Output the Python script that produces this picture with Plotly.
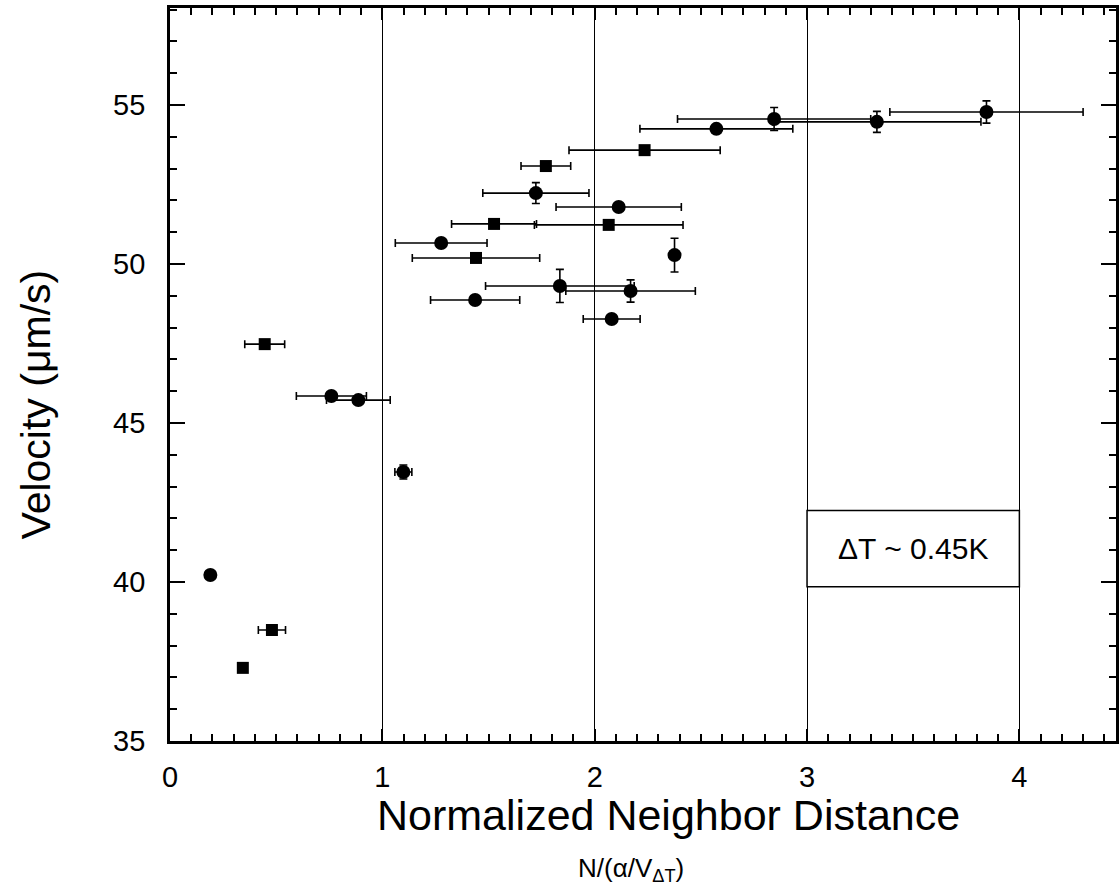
import plotly.graph_objects as go

# ---- data ----
circle_x = [0.19, 0.76, 0.887, 1.099, 1.277, 1.437, 1.723, 1.836, 2.08, 2.113, 2.169, 2.376, 2.573, 2.845, 3.329, 3.845]
circle_y = [40.22, 45.85, 45.72, 43.46, 50.66, 48.87, 52.23, 49.31, 48.27, 51.79, 49.15, 50.28, 54.25, 54.56, 54.47, 54.78]
circle_xerr = [0, 0.165, 0.15, 0.04, 0.216, 0.21, 0.25, 0.35, 0.134, 0.295, 0.305, 0, 0.36, 0.455, 0.49, 0.455]
circle_yerr = [0, 0, 0, 0.22, 0, 0, 0.33, 0.52, 0, 0, 0.35, 0.53, 0, 0.36, 0.33, 0.35]

square_x = [0.343, 0.48, 0.446, 1.441, 1.526, 1.77, 2.066, 2.235]
square_y = [37.3, 38.49, 47.48, 50.19, 51.26, 53.08, 51.23, 53.58]
square_xerr = [0, 0.064, 0.094, 0.3, 0.2, 0.117, 0.35, 0.356]

x_ticks = [0, 1, 2, 3, 4]
y_ticks = [35, 40, 45, 50, 55]
x_title = "Normalized Neighbor Distance"
x_subtitle = "N/(α/V<sub>ΔT</sub>)"
y_title = "Velocity (μm/s)"
annotation_text = "ΔT ~ 0.45K"

FONT = "Liberation Sans, Arial, Helvetica, sans-serif"
TICKFONT = dict(family=FONT, size=29, color="black")

# plot-area geometry in pixels (used only to place the free text labels)
L, R, T, B = 170, 1119, 8, 741


def px_x(px):
    return (px - L) / (R - L)


def px_y(py):
    return (B - py) / (B - T)


fig = go.Figure()

fig.add_trace(go.Scatter(
    x=square_x, y=square_y, mode="markers",
    marker=dict(symbol="square", size=12, color="black"),
    error_x=dict(type="data", array=square_xerr, visible=True, color="black", thickness=1.6, width=4),
    showlegend=False,
))
fig.add_trace(go.Scatter(
    x=circle_x, y=circle_y, mode="markers",
    marker=dict(symbol="circle", size=14, color="black"),
    error_x=dict(type="data", array=circle_xerr, visible=True, color="black", thickness=1.6, width=4),
    error_y=dict(type="data", array=circle_yerr, visible=True, color="black", thickness=1.6, width=4),
    showlegend=False,
))

# annotation box
fig.add_shape(type="rect", x0=3, x1=4, y0=39.85, y1=42.25, xref="x", yref="y",
              line=dict(color="black", width=1.5), fillcolor="white", layer="above")
fig.add_annotation(x=3.5, y=41.05, xref="x", yref="y", text=annotation_text, showarrow=False,
                   font=dict(family=FONT, size=30, color="black"))

# axis titles (placed as in the reference)
fig.add_annotation(x=px_x(670), y=px_y(815), xref="paper", yref="paper",
                   xanchor="center", yanchor="middle", text=x_title, showarrow=False,
                   font=dict(family=FONT, size=43, color="black"))
fig.add_annotation(x=px_x(632), y=px_y(869), xref="paper", yref="paper",
                   xanchor="center", yanchor="middle", text=x_subtitle, showarrow=False,
                   font=dict(family=FONT, size=26, color="black"))
fig.add_annotation(x=px_x(36), y=px_y(404), xref="paper", yref="paper",
                   xanchor="center", yanchor="middle", text=y_title, showarrow=False, textangle=-90,
                   font=dict(family=FONT, size=41, color="black"))

axis_common = dict(
    showline=True, linecolor="black", linewidth=2.8, mirror="ticks",
    ticks="inside", tickcolor="black", tickwidth=2,
    zeroline=False,
)

fig.update_xaxes(
    range=[0, 4.455], tickvals=x_ticks, ticktext=[str(v) for v in x_ticks],
    ticklen=12, tickfont=TICKFONT, ticklabelstandoff=8,
    showgrid=True, gridcolor="black", gridwidth=1.2,
    minor=dict(dtick=0.1, tick0=0, ticks="inside", ticklen=7, tickwidth=2, tickcolor="black", showgrid=False),
    **axis_common,
)
fig.update_yaxes(
    range=[35, 58.05], tickvals=y_ticks, ticktext=[str(v) for v in y_ticks],
    ticklen=15, tickfont=TICKFONT, ticklabelstandoff=16, showgrid=False,
    minor=dict(dtick=1, tick0=35, ticks="inside", ticklen=7, tickwidth=2, tickcolor="black", showgrid=False),
    **axis_common,
)

fig.update_layout(
    width=1120, height=894,
    margin=dict(l=L, r=1120 - R, t=T, b=894 - B),
    paper_bgcolor="white", plot_bgcolor="white",
    font=dict(family=FONT, color="black"),
)

fig.write_html("out.html")
